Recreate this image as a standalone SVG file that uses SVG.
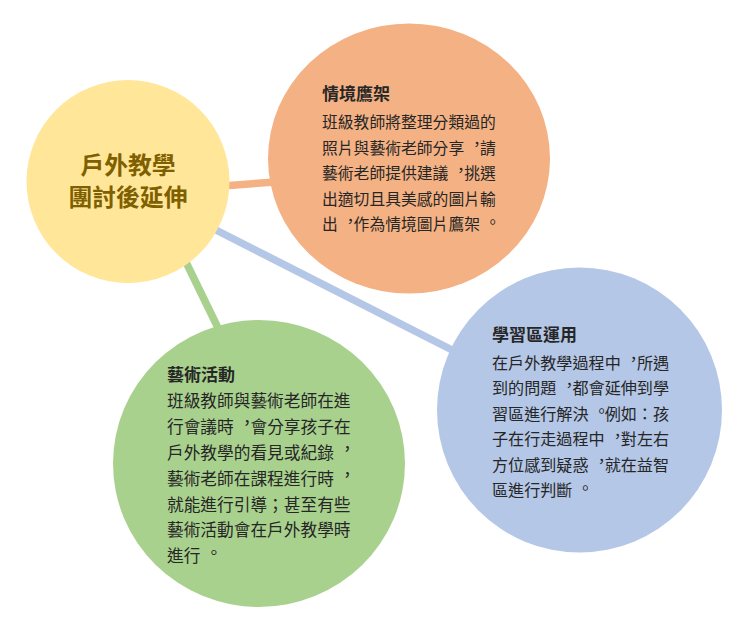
<svg xmlns="http://www.w3.org/2000/svg" width="740" height="629" viewBox="0 0 740 629" xml:lang="zh-TW" lang="zh-TW">
<style>
.t{font-family:"Noto Sans CJK TC",sans-serif;fill:#262626}
.h{font-weight:bold;font-size:17px}
.c{font-family:"Noto Sans CJK TC",sans-serif;fill:#7f6000;font-weight:bold;font-size:23.8px;text-anchor:middle}
.ln{fill:none;stroke-width:7.5;stroke-linecap:butt}
</style>
<rect width="740" height="629" fill="#ffffff"/>
<g id="connectors">
<line class="ln" x1="222" y1="186" x2="275" y2="182" stroke="#f4b183"/>
<line class="ln" x1="212" y1="228" x2="456" y2="352" stroke="#b4c7e7"/>
<line class="ln" x1="183" y1="256" x2="220" y2="332" stroke="#a9d18e"/>
</g>
<g id="node-orange">
<ellipse cx="409" cy="158.5" rx="141" ry="135" fill="#f4b183"/>
<text class="t h" x="322" y="100">情境鷹架</text>
<g class="t" font-size="15.8">
<text x="322" y="128">班級教師將整理分類過的</text>
<text x="322" y="153.5">照片與藝術老師分享<tspan x="468.9" y="150.3">，</tspan><tspan x="480" y="153.5">請</tspan></text>
<text x="322" y="179">藝術老師提供建議<tspan x="453.1" y="175.8">，</tspan><tspan x="464.2" y="179">挑選</tspan></text>
<text x="322" y="204.5">出適切且具美感的圖片輸</text>
<text x="322" y="230">出<tspan x="342.5" y="226.8">，</tspan><tspan x="353.6" y="230">作為情境圖片鷹架</tspan><tspan x="484.7" y="227.6">。</tspan></text>
</g>
</g>
<g id="node-center">
<circle cx="128" cy="181.5" r="101.5" fill="#ffe699"/>
<text class="c" x="128" y="174">戶外教學</text>
<text class="c" x="128" y="206">團討後延伸</text>
</g>
<g id="node-green">
<ellipse cx="259" cy="463.5" rx="146" ry="143.5" fill="#a9d18e"/>
<text class="t h" x="167" y="381">藝術活動</text>
<g class="t" font-size="16.7">
<text x="167" y="406.5">班級教師與藝術老師在進</text>
<text x="167" y="432.5">行會議時<tspan x="238.8" y="429.2">，</tspan><tspan x="250.5" y="432.5">會分享孩子在</tspan></text>
<text x="167" y="458.5">戶外教學的看見或紀錄<tspan x="339" y="455.2">，</tspan></text>
<text x="167" y="484.5">藝術老師在課程進行時<tspan x="339" y="481.2">，</tspan></text>
<text x="167" y="510.5">就能進行引導；甚至有些</text>
<text x="167" y="536">藝術活動會在戶外教學時</text>
<text x="167" y="561.5">進行<tspan x="205.4" y="559">。</tspan></text>
</g>
</g>
<g id="node-blue">
<circle cx="579.5" cy="410" r="142.5" fill="#b4c7e7"/>
<text class="t h" x="492" y="341">學習區運用</text>
<g class="t" font-size="16.1">
<text x="492" y="368.5">在戶外教學過程中<tspan x="625.6" y="365.3">，</tspan><tspan x="636.9" y="368.5">所遇</tspan></text>
<text x="492" y="394">到的問題<tspan x="561.2" y="390.8">，</tspan><tspan x="572.5" y="394">都會延伸到學</tspan></text>
<text x="492" y="419.5">習區進行解決<tspan x="593.4" y="417.1">。</tspan><tspan x="604.7" y="419.5">例如：孩</tspan></text>
<text x="492" y="445">子在行走過程中<tspan x="609.5" y="441.8">，</tspan><tspan x="620.8" y="445">對左右</tspan></text>
<text x="492" y="470.5">方位感到疑惑<tspan x="593.4" y="467.3">，</tspan><tspan x="604.7" y="470.5">就在益智</tspan></text>
<text x="492" y="496">區進行判斷<tspan x="577.3" y="493.6">。</tspan></text>
</g>
</g>
</svg>
